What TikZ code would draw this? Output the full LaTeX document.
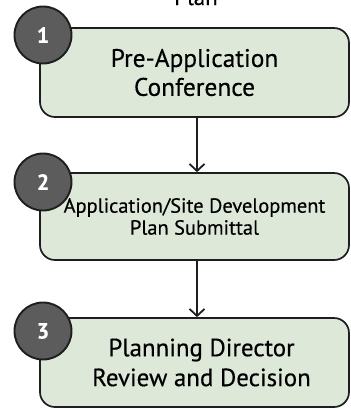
\documentclass[tikz,border=0pt]{standalone}
\usepackage{fontspec}
\setmainfont{PT Sans}[FakeBold=0.4]
\usetikzlibrary{arrows.meta}
\definecolor{boxfill}{HTML}{DDE8D9}
\definecolor{circfill}{HTML}{5C5C5C}
\definecolor{edge}{HTML}{1E1E1E}
\tikzset{
  stepbox/.style={draw=edge, line width=1.7bp, fill=boxfill, rounded corners=15bp,
    minimum width=309bp, align=center, inner sep=0pt},
  numcirc/.style={circle, draw=edge, line width=1.9bp, fill=circfill, minimum size=57bp,
    inner sep=0pt, text=white, font=\fontsize{22}{22}\selectfont\bfseries},
  flow/.style={draw=edge, line width=1.8bp, -{Straight Barb[length=7bp,width=15bp,line width=1.8bp]}}
}
\begin{document}
\begin{tikzpicture}[x=1bp,y=-1bp]
\useasboundingbox (0,0) rectangle (351,409);
\node[anchor=base, font=\fontsize{23}{23}\selectfont] (title) at (196,5) {Plan};
\node[stepbox, minimum height=89bp, font=\fontsize{25.5}{29}\selectfont] (b1) at (194.5,72.5)
  {Pre-Application\\Conference};
\node[stepbox, minimum height=87bp, font=\fontsize{20.5}{22}\selectfont] (b2) at (194.5,216.5)
  {Application/Site Development\\Plan Submittal};
\node[stepbox, minimum height=89bp, font=\fontsize{25}{30}\selectfont] (b3) at (194.5,362.5)
  {\hspace*{14bp}Planning Director\\\hspace*{14bp}Review and Decision};
\node[numcirc] (c1) at (43,35) {1};
\node[numcirc] (c2) at (43,182) {2};
\node[numcirc] (c3) at (43,331) {3};
\draw[flow] ([xshift=2.5bp]b1.south) -- ([xshift=2.5bp]b2.north);
\draw[flow] ([xshift=2.5bp]b2.south) -- ([xshift=2.5bp]b3.north);
\end{tikzpicture}
\end{document}
